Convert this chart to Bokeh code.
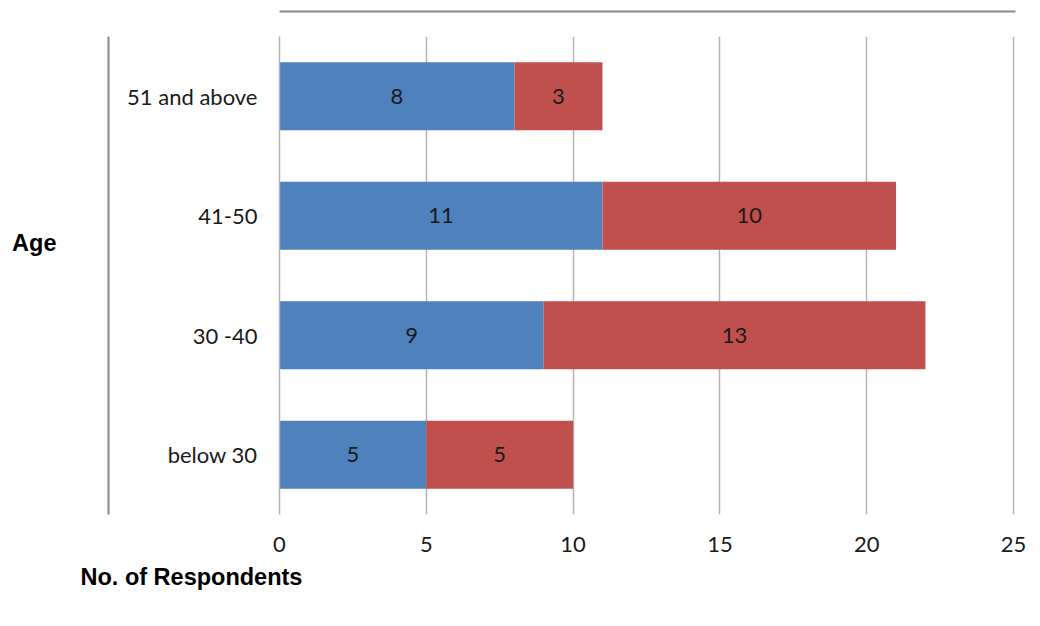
from bokeh.plotting import figure
from bokeh.models import (ColumnDataSource, FactorRange, Range1d, FixedTicker,
                          LinearAxis, Legend, LegendItem, LabelSet, Title)
from bokeh.core.properties import value
from bokeh.embed import file_html
from bokeh.resources import INLINE

ages = ["below 30", "30 -40", "41-50", "51 and above"]
male = [5, 9, 11, 8]
female = [5, 13, 10, 3]
x_ticks = [0, 5, 10, 15, 20, 25]

male_mid = [m / 2 for m in male]
female_mid = [m + f / 2 for m, f in zip(male, female)]

src = ColumnDataSource(dict(age=ages, Male=male, Female=female,
                            male_mid=male_mid, female_mid=female_mid,
                            male_txt=[str(v) for v in male],
                            female_txt=[str(v) for v in female]))

FONT = "Lato"
BOLD = "Liberation Sans"
TXT = "#1a1a1a"
GRID = "#b4b4b4"
BORDER = "#8a8a8a"

p = figure(width=1040, height=626, output_backend="svg", toolbar_location=None,
           y_range=FactorRange(*ages), x_range=Range1d(0, 25 + 2 / 29.36),
           min_border_left=279, min_border_right=25, min_border_top=36,
           min_border_bottom=112)
p.frame_width = 736
p.frame_height = 478
p.outline_line_color = None

rs = p.hbar_stack(["Male", "Female"], y="age", height=0.57,
                  color=["#4F81BD", "#C0504D"], line_color=None, source=src)

lbl_kw = dict(text_font=value(FONT), text_font_size="22px", text_color=TXT,
              text_align="center", text_baseline="middle", source=src)
p.add_layout(LabelSet(x="male_mid", y="age", text="male_txt", **lbl_kw))
p.add_layout(LabelSet(x="female_mid", y="age", text="female_txt", **lbl_kw))

p.xgrid.ticker = FixedTicker(ticks=x_ticks)
p.xgrid.grid_line_color = GRID
p.xgrid.grid_line_width = 1.5
p.ygrid.grid_line_color = None

p.xaxis.ticker = FixedTicker(ticks=x_ticks)
p.xaxis.axis_line_color = None
p.xaxis.major_tick_line_color = None
p.xaxis.minor_tick_line_color = None
p.xaxis.major_label_standoff = 16
p.xaxis.major_label_text_font = FONT
p.xaxis.major_label_text_font_size = "22px"
p.xaxis.major_label_text_color = TXT

p.yaxis.axis_line_color = GRID
p.yaxis.axis_line_width = 1.5
p.yaxis.major_tick_line_color = None
p.yaxis.minor_tick_line_color = None
p.yaxis.major_label_standoff = 16
p.yaxis.major_label_text_font = FONT
p.yaxis.major_label_text_font_size = "22px"
p.yaxis.major_label_text_color = TXT

# spacer + border/"Age" axis on the left (Age sits at synthetic y 2.27)
AGE_POS = 2.27
spacer_l = LinearAxis(ticker=FixedTicker(ticks=[AGE_POS]),
                      major_label_overrides={AGE_POS: ""}, major_label_standoff=0,
                      axis_line_color=None, major_tick_line_color="white",
                      minor_tick_line_color=None,
                      major_tick_out=16, minor_tick_out=0, major_tick_in=0)
p.add_layout(spacer_l, "left")
age_axis = LinearAxis(ticker=FixedTicker(ticks=[AGE_POS]),
                      major_label_overrides={AGE_POS: "Age"},
                      axis_line_color=BORDER, axis_line_width=2,
                      major_tick_line_color=None, minor_tick_line_color=None,
                      major_tick_out=0, major_tick_in=0, minor_tick_out=0,
                      major_label_standoff=52,
                      major_label_text_font=BOLD, major_label_text_font_style="bold",
                      major_label_text_font_size="23.5px", major_label_text_color="black")
p.add_layout(age_axis, "left")

# spacer + border axis on top
TOP_POS = 12.5
spacer_t = LinearAxis(ticker=FixedTicker(ticks=[TOP_POS]),
                      major_label_overrides={TOP_POS: ""}, major_label_standoff=0,
                      axis_line_color=None, major_tick_line_color="white",
                      minor_tick_line_color=None,
                      major_tick_out=25, minor_tick_out=0, major_tick_in=0)
p.add_layout(spacer_t, "above")
top_axis = LinearAxis(ticker=FixedTicker(ticks=[]), axis_line_color=BORDER,
                      axis_line_width=2, major_tick_line_color=None,
                      minor_tick_line_color=None, major_tick_out=0, minor_tick_out=0,
                      major_tick_in=0)
p.add_layout(top_axis, "above")

p.add_layout(Title(text="No. of Respondents", align="left", offset=-199,
                   text_font=BOLD, text_font_style="bold", text_font_size="23.5px",
                   text_color="black", standoff=14), "below")

legend = Legend(items=[LegendItem(label="Male", renderers=[rs[0]]),
                       LegendItem(label="Female", renderers=[rs[1]])],
                orientation="horizontal", location="center",
                glyph_width=12, glyph_height=12, spacing=48, padding=0, margin=0,
                label_standoff=9, border_line_color=None, background_fill_alpha=0,
                label_text_font=FONT, label_text_font_size="22px",
                label_text_color=TXT)
p.add_layout(legend, "below")

open("out.html", "w").write(file_html(p, INLINE))
